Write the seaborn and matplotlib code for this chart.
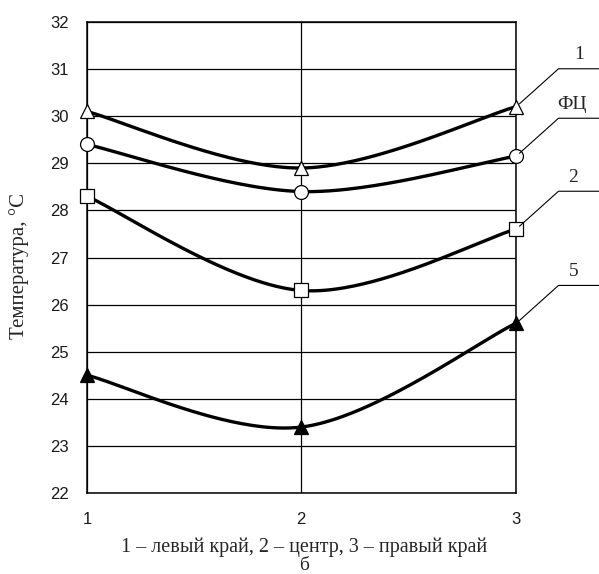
import numpy as np
import pandas as pd
import matplotlib
matplotlib.use("Agg")
import matplotlib.pyplot as plt
from matplotlib.lines import Line2D
import seaborn as sns

# Measurement positions across the section
positions = [1, 2, 3]
position_labels = ["1", "2", "3"]

# Temperature, °C, for each curve
temp_1 = [30.1, 28.9, 30.2]
temp_fc = [29.4, 28.4, 29.15]
temp_2 = [28.3, 26.3, 27.6]
temp_5 = [24.5, 23.4, 25.6]

series_names = ["1", "ФЦ", "2", "5"]
series_values = [temp_1, temp_fc, temp_2, temp_5]

y_ticks = list(range(22, 33))


def smooth_curve(xs, ys, n=80):
    """Bezier smoothing through the points (Catmull-Rom style control points)."""
    pts = np.column_stack([xs, ys]).astype(float)
    out = []
    for i in range(len(pts) - 1):
        p0 = pts[i - 1] if i > 0 else pts[i]
        p1, p2 = pts[i], pts[i + 1]
        p3 = pts[i + 2] if i + 2 < len(pts) else pts[i + 1]
        c1 = p1 + (p2 - p0) / 6.0
        c2 = p2 - (p3 - p1) / 6.0
        t = np.linspace(0, 1, n)[:, None]
        seg = ((1 - t) ** 3) * p1 + 3 * ((1 - t) ** 2) * t * c1 \
            + 3 * (1 - t) * (t ** 2) * c2 + (t ** 3) * p2
        out.append(seg if i == 0 else seg[1:])
    return np.vstack(out)


rows = []
for name, vals in zip(series_names, series_values):
    curve = smooth_curve(positions, vals)
    for k, (x, y) in enumerate(curve):
        rows.append({"series": name, "x": x, "y": y, "order": k})
curves = pd.DataFrame(rows)

sns.set_style("white")
plt.rcParams["font.family"] = ["Liberation Sans", "DejaVu Sans"]

W, H = 599, 574
fig = plt.figure(figsize=(W / 100, H / 100), dpi=100)
ax = fig.add_axes([87 / W, 1 - 493 / H, (515.5 - 87) / W, (493 - 22) / H])

sns.lineplot(data=curves, x="x", y="y", units="series", estimator=None,
             sort=False, color="black", linewidth=2.4, ax=ax, legend=False,
             zorder=3)

marker_styles = {
    "1": dict(marker="^", mfc="white", ms=10.5),
    "ФЦ": dict(marker="o", mfc="white", ms=10),
    "2": dict(marker="s", mfc="white", ms=9.5),
    "5": dict(marker="^", mfc="black", ms=10.5),
}
for name, vals in zip(series_names, series_values):
    st = marker_styles[name]
    ax.plot(positions, vals, linestyle="none", marker=st["marker"],
            markerfacecolor=st["mfc"], markeredgecolor="black",
            markeredgewidth=0.9, markersize=st["ms"], zorder=4,
            clip_on=False)

ax.set_xlim(1, 3)
ax.set_ylim(22, 32)
ax.set_xticks(positions)
ax.set_xticklabels(position_labels)
ax.set_yticks(y_ticks)
ax.grid(True, color="black", linewidth=0.9)
ax.set_axisbelow(True)
for sp in ax.spines.values():
    sp.set_color("black")
    sp.set_linewidth(1.1)
ax.tick_params(axis="both", length=0, labelsize=12, colors="#1a1a1a")
ax.tick_params(axis="y", pad=13)
ax.tick_params(axis="x", pad=14)
ax.set_xlabel("")
ax.set_ylabel("")

serif = ["Liberation Serif", "DejaVu Serif"]
fig.text(19 / W, 1 - 266 / H, "Температура, °C", rotation=90,
         ha="center", va="center", fontsize=15, family=serif)
fig.text(304 / W, 1 - 547 / H, "1 – левый край, 2 – центр, 3 – правый край",
         ha="center", va="center", fontsize=14.5, family=serif)
fig.text(304 / W, 1 - 565 / H, "б", ha="center", va="center",
         fontsize=14, family=serif)

# Leader lines from the right-hand points to the curve labels
fig.canvas.draw()
to_fig = fig.transFigure.inverted()
label_dx = {"1": 64, "ФЦ": 57, "2": 58, "5": 58}
for name, vals in zip(series_names, series_values):
    px, py = ax.transData.transform((positions[-1], vals[-1]))
    start = (px + 4, py + 3)
    knee = (px + 43, py + 38)
    end = (W + 5, py + 38)
    pts = to_fig.transform([start, knee, end])
    fig.add_artist(Line2D(pts[:, 0], pts[:, 1], color="black",
                          linewidth=0.8, transform=fig.transFigure))
    tx, ty = to_fig.transform((px + label_dx[name], py + 52))
    fig.text(tx, ty, name, ha="center", va="center", fontsize=14,
             family=serif)

fig.savefig("out.png", dpi=100)
